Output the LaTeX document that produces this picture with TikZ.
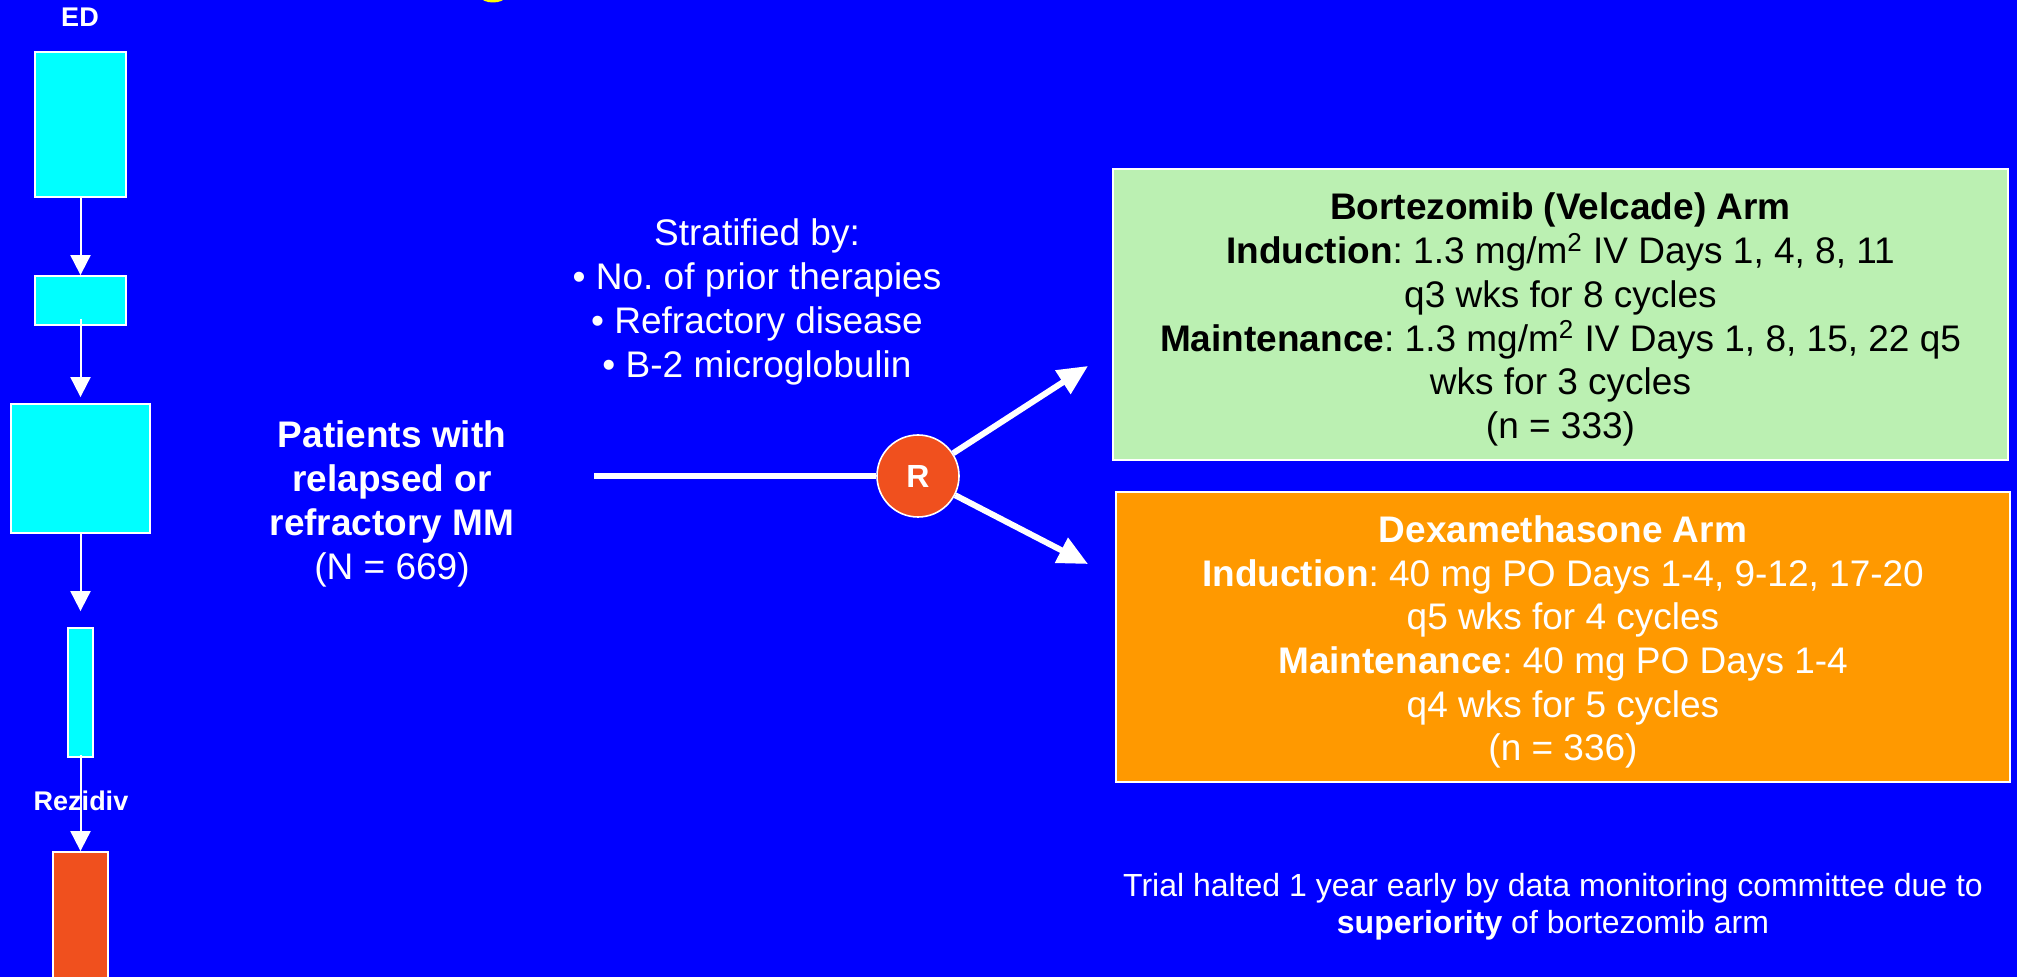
\documentclass[tikz,border=0pt]{standalone}
\usepackage{fontspec}
\setmainfont{Liberation Sans}
\usetikzlibrary{arrows.meta}
\frenchspacing
\definecolor{bgblue}{HTML}{0000FF}
\definecolor{cyanbox}{HTML}{00FFFF}
\definecolor{redbox}{HTML}{F0501E}
\definecolor{greenbox}{HTML}{BBF0B2}
\definecolor{orangebox}{HTML}{FF9900}
\definecolor{titleyellow}{HTML}{FFFF00}
\tikzset{
  colbox/.style={draw=white, line width=0.9pt, fill=cyanbox, inner sep=0pt},
  thinarrow/.style={draw=white, line width=1pt, -{Triangle[width=10pt,length=10pt]}},
  thickline/.style={draw=white, line width=3pt},
  thickarrow/.style={draw=white, line width=3pt, -{Triangle[width=13.5pt,length=15pt]}},
  armbox/.style={draw=white, line width=0.7pt, inner sep=0pt, align=center,
    font=\fontsize{18.5pt}{21.85pt}\selectfont},
  bigtext/.style={text=white, align=center, inner sep=0pt,
    font=\fontsize{18.5pt}{21.9pt}\selectfont},
  labeltext/.style={text=white, inner sep=0pt, font=\bfseries\fontsize{13.5pt}{16pt}\selectfont},
}
\begin{document}
\begin{tikzpicture}[x=0.5pt,y=-0.5pt]
\useasboundingbox (0,0) rectangle (2017,977);
\fill[bgblue] (0,0) rectangle (2017,977);
\begin{scope}
\clip (0,0) rectangle (2017,977);
% clipped title fragment
\fill[titleyellow] (493,-3) ellipse [x radius=12, y radius=5.5];

% left column
\node[labeltext] (ed) at (80,17) {ED};
\node[colbox, minimum width=45.5pt, minimum height=72.5pt] (b1) at (80.5,124.5) {};
\node[colbox, minimum width=45.5pt, minimum height=24.5pt] (b2) at (80.5,300.5) {};
\node[colbox, minimum width=69.5pt, minimum height=64.5pt] (b3) at (80.5,468.5) {};
\node[colbox, minimum width=12.5pt, minimum height=64.5pt] (b4) at (80.5,692.5) {};
\node[colbox, fill=redbox, minimum width=27.5pt, minimum height=69pt] (b5) at (80.5,921) {};
\draw[thinarrow] (b1) -- (b2);
\draw[thinarrow, shorten <=-3.5pt, shorten >=3pt] (b2) -- (b3);
\draw[thinarrow, shorten >=8pt] (b3) -- (b4);
\draw[thinarrow, shorten <=-1.5pt] (b4) -- (b5);
\node[labeltext] (rez) at (81,801) {Rezidiv};

% patients
\node[bigtext] (pat) at (392,504) {\textbf{Patients with}\\\textbf{relapsed or}\\\textbf{refractory MM}\\(N = 669)};
\node[bigtext] (strat) at (757,302) {Stratified by:\\• No. of prior therapies\\• Refractory disease\\• B-2 microglobulin};

% randomisation
\node[circle, draw=white, line width=0.8pt, fill=redbox, minimum size=41pt, inner sep=0pt,
      text=white, font=\bfseries\fontsize{16pt}{16pt}\selectfont] (R) at (918,476) {R};
\coordinate (lstart) at (594,476);
\coordinate (tip1) at (1088,366);
\coordinate (tip2) at (1088,564);
\draw[thickline] (lstart) -- (R);
\draw[thickarrow] (R) -- (tip1);
\draw[thickarrow] (R) -- (tip2);

% arms
\node[armbox, fill=greenbox, text=black, minimum width=447.5pt, minimum height=145.5pt] (arm1) at (1560.5,314.5)
 {\rule{0pt}{18.5pt}\textbf{Bortezomib (Velcade) Arm}\\
  \textbf{Induction}: 1.3 mg/m\textsuperscript{2} IV Days 1, 4, 8, 11\\
  q3 wks for 8 cycles\\
  \textbf{Maintenance}: 1.3 mg/m\textsuperscript{2} IV Days 1, 8, 15, 22 q5\\
  wks for 3 cycles\\
  (n = 333)};
\node[armbox, fill=orangebox, text=white, minimum width=447pt, minimum height=145pt] (arm2) at (1563,637)
 {\rule{0pt}{18.5pt}\textbf{Dexamethasone Arm}\\
  \textbf{Induction}: 40 mg PO Days 1-4, 9-12, 17-20\\
  q5 wks for 4 cycles\\
  \textbf{Maintenance}: 40 mg PO Days 1-4\\
  q4 wks for 5 cycles\\
  (n = 336)};

% note
\node[text=white, align=center, inner sep=0pt, font=\fontsize{16pt}{18.5pt}\selectfont] (note) at (1553,907)
 {Trial halted 1 year early by data monitoring committee due to\\\textbf{superiority} of bortezomib arm};
\end{scope}
\end{tikzpicture}
\end{document}
